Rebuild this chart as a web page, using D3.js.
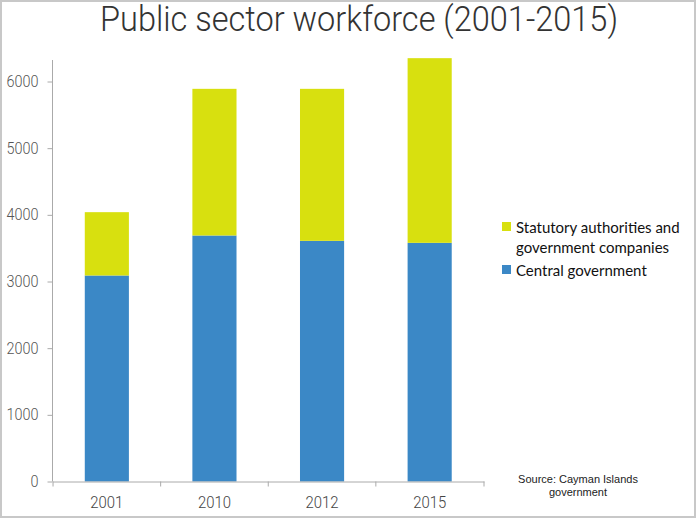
<!DOCTYPE html>
<html>
<head>
<meta charset="utf-8">
<script src="https://cdn.jsdelivr.net/npm/d3@7"></script>
<style>
  body { margin: 0; background: #fff; }
</style>
</head>
<body>
<div id="chart"></div>
<script>
var years = ["2001", "2010", "2012", "2015"];
var central = [3090, 3690, 3610, 3580];
var statutory = [950, 2200, 2280, 2770];
var yTicks = [0, 1000, 2000, 3000, 4000, 5000, 6000];
var seriesNames = ["Statutory authorities and|government companies", "Central government"];
var seriesColors = ["#d8e00f", "#3b88c6"];

var width = 696, height = 518;

var svg = d3.select("#chart").append("svg")
    .attr("width", width)
    .attr("height", height);

// frame around the picture
svg.append("rect")
    .attr("x", 1).attr("y", 1)
    .attr("width", width - 2).attr("height", height - 2)
    .attr("fill", "none")
    .style("stroke", "#c8c8c8")
    .style("stroke-width", 2);

var x = d3.scaleBand().domain(years).range([52.5, 484]).paddingInner(0.59).paddingOuter(0.3);
var y = d3.scaleLinear().domain([0, 6000]).range([481.5, 81.5]);

var rows = years.map(function(d, i) {
  return {year: d, central: central[i], statutory: statutory[i]};
});
var stack = d3.stack().keys(["central", "statutory"])(rows);
var colorOf = {central: seriesColors[1], statutory: seriesColors[0]};

svg.selectAll("g.layer")
  .data(stack)
  .enter().append("g")
    .attr("class", "layer")
    .attr("fill", function(d) { return colorOf[d.key]; })
  .selectAll("rect")
  .data(function(d) { return d; })
  .enter().append("rect")
    .attr("x", function(d) { return x(d.data.year); })
    .attr("y", function(d) { return y(d[1]); })
    .attr("width", x.bandwidth())
    .attr("height", function(d) { return y(d[0]) - y(d[1]); });

// y axis
var yAxis = svg.append("g")
    .attr("transform", "translate(52.5,0)")
    .call(d3.axisLeft(y).tickValues(yTicks).tickSize(5).tickPadding(9).tickFormat(d3.format("d")));
yAxis.select(".domain").attr("d", "M-0,60V481.5").style("stroke", "#aaa");
yAxis.selectAll(".tick line").style("stroke", "#aaa");
yAxis.selectAll("text")
    .style("font-family", "Roboto")
    .style("font-weight", 300)
    .style("font-size", "16px")
    .style("fill", "#555")
    .attr("textLength", function(d) { return String(d).length * 8; })
    .attr("lengthAdjust", "spacingAndGlyphs");

// x axis
var xAxis = svg.append("g")
    .attr("transform", "translate(0,481.5)")
    .call(d3.axisBottom(x).tickSize(0).tickPadding(14));
xAxis.select(".domain").style("stroke", "#aaa");
var edges = x.domain().map(function(d) { return x(d) - x.step() * x.paddingInner() / 2; });
edges.push(484);
xAxis.selectAll(".edge").data(edges).enter().append("line")
    .attr("x1", function(d) { return d; }).attr("x2", function(d) { return d; })
    .attr("y1", 0).attr("y2", 5)
    .style("stroke", "#aaa");
xAxis.selectAll(".tick text")
    .style("font-family", "Roboto")
    .style("font-weight", 300)
    .style("font-size", "17px")
    .style("fill", "#444")
    .attr("textLength", 33)
    .attr("lengthAdjust", "spacingAndGlyphs");

// title
svg.append("text")
    .attr("x", 100).attr("y", 31)
    .attr("textLength", 518)
    .attr("lengthAdjust", "spacingAndGlyphs")
    .style("font-family", "Roboto")
    .style("font-weight", 300)
    .style("font-size", "35px")
    .style("fill", "#333")
    .text("Public sector workforce (2001-2015)");

// legend
var legend = svg.append("g").attr("transform", "translate(502,0)");
var legendY = [222, 265];
seriesNames.forEach(function(name, i) {
  legend.append("rect")
      .attr("x", 0).attr("y", legendY[i])
      .attr("width", 9).attr("height", 9)
      .attr("fill", seriesColors[i]);
  var t = legend.append("text")
      .attr("x", 14).attr("y", legendY[i] + 11)
      .style("font-family", "Lato")
      .style("font-size", "15px")
      .style("fill", "#111");
  name.split("|").forEach(function(line, j) {
    t.append("tspan").attr("x", 14).attr("dy", j ? 20 : 0).text(line);
  });
});

// source
svg.append("text")
    .attr("x", 578).attr("y", 483)
    .attr("text-anchor", "middle")
    .style("font-family", "Liberation Sans")
    .style("font-size", "11px")
    .style("fill", "#222")
    .selectAll("tspan")
    .data(["Source: Cayman Islands", "government"])
    .enter().append("tspan")
      .attr("x", 578)
      .attr("dy", function(d, i) { return i ? 13 : 0; })
      .text(function(d) { return d; });
</script>
</body>
</html>
